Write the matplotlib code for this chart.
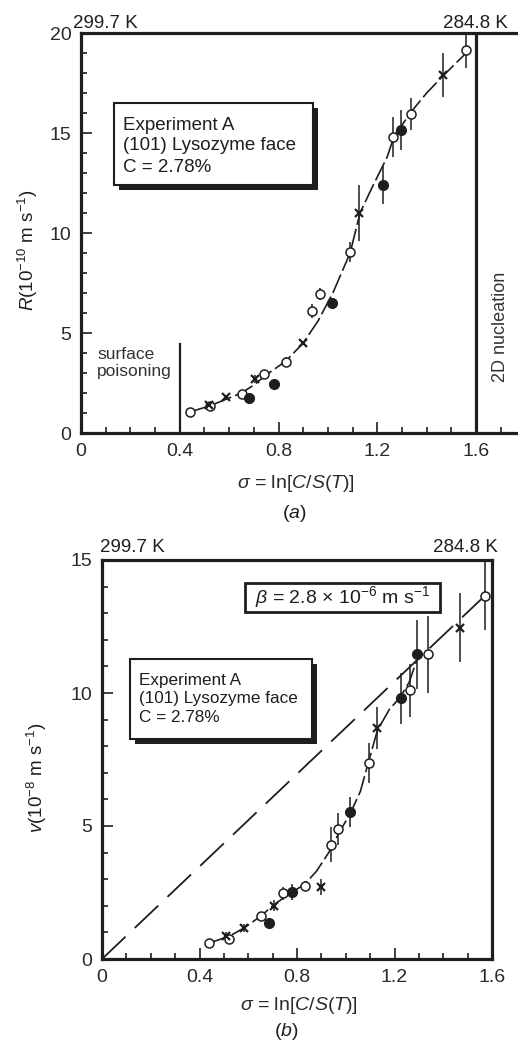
import matplotlib

matplotlib.use("Agg")
import matplotlib.pyplot as plt
from matplotlib.patches import Rectangle
from matplotlib.ticker import MultipleLocator, FuncFormatter


# ---- datos del panel (a): velocidad de crecimiento R ----
a_abierto_x = [0.441, 0.522, 0.652, 0.741, 0.829, 0.936, 0.968, 1.089, 1.263, 1.335, 1.561]
a_abierto_y = [1.05, 1.35, 1.95, 2.95, 3.55, 6.1, 6.95, 9.05, 14.8, 15.95, 19.15]
a_abierto_err = [0, 0, 0, 0, 0.25, 0.35, 0.3, 0.5, 1.0, 0.8, 0.9]

a_lleno_x = [0.68, 0.781, 1.015, 1.222, 1.295]
a_lleno_y = [1.75, 2.45, 6.5, 12.4, 15.15]
a_lleno_err = [0, 0, 0, 0.95, 1.0]

a_cruz_x = [0.52, 0.587, 0.704, 0.9, 1.126, 1.467]
a_cruz_y = [1.4, 1.8, 2.7, 4.5, 11.0, 17.9]
a_cruz_err = [0, 0, 0.2, 0, 1.4, 1.1]

a_curva_x = [0.44, 0.52, 0.59, 0.65, 0.70, 0.75, 0.83, 0.90, 0.96, 1.02,
             1.09, 1.13, 1.18, 1.24, 1.27, 1.30, 1.34, 1.40, 1.47, 1.56]
a_curva_y = [1.05, 1.35, 1.7, 2.0, 2.4, 2.9, 3.6, 4.5, 5.6, 7.0,
             9.0, 11.0, 12.3, 13.8, 14.9, 15.4, 16.1, 17.0, 17.9, 19.0]

# ---- datos del panel (b): velocidad de escalón v ----
b_abierto_x = [0.439, 0.52, 0.652, 0.741, 0.832, 0.941, 0.97, 1.094, 1.265, 1.336, 1.572]
b_abierto_y = [0.6, 0.75, 1.62, 2.47, 2.75, 4.3, 4.9, 7.37, 10.1, 11.45, 13.65]
b_abierto_err = [0, 0, 0.15, 0.25, 0.2, 0.65, 0.6, 0.75, 1.0, 1.45, 1.3]

b_lleno_x = [0.686, 0.781, 1.018, 1.225, 1.293]
b_lleno_y = [1.35, 2.52, 5.53, 9.8, 11.45]
b_lleno_err = [0.2, 0.3, 0.55, 0.95, 1.3]

b_cruz_x = [0.51, 0.582, 0.705, 0.9, 1.13, 1.47]
b_cruz_y = [0.85, 1.16, 2.0, 2.72, 8.68, 12.45]
b_cruz_err = [0.15, 0.15, 0.2, 0.3, 0.8, 1.3]

b_curva_x = [0.44, 0.52, 0.58, 0.65, 0.70, 0.76, 0.83, 0.88, 0.93, 0.97,
             1.02, 1.06, 1.09, 1.13, 1.18, 1.22, 1.26, 1.29]
b_curva_y = [0.6, 0.85, 1.15, 1.6, 2.0, 2.4, 2.8, 3.3, 4.0, 4.7,
             5.5, 6.3, 7.3, 8.6, 9.4, 9.8, 10.4, 11.2]

beta_x = [0, 1.57]
beta_y = [0, 13.65]

TINTA = "#1e1e1e"
W, H = 518, 1042

plt.rcParams["font.family"] = ["Liberation Sans", "DejaVu Sans"]
plt.rcParams["mathtext.fontset"] = "custom"
plt.rcParams["mathtext.rm"] = "Liberation Sans"
plt.rcParams["mathtext.it"] = "Liberation Sans:italic"
plt.rcParams["mathtext.cal"] = "Liberation Sans"


def fx(px):
    return px / W


def fy(py):
    return 1 - py / H


def caja(fig, x0, y0, x1, y1, sombra=5, lw=1.5):
    """Recuadro con sombra negra abajo a la derecha (coordenadas en píxeles)."""
    if sombra:
        fig.patches.append(Rectangle((fx(x0 + sombra), fy(y1 + sombra)),
                                     fx(x1 - x0), (y1 - y0) / H,
                                     transform=fig.transFigure, facecolor=TINTA,
                                     edgecolor=TINTA, lw=0, zorder=5))
    fig.patches.append(Rectangle((fx(x0), fy(y1)), fx(x1 - x0), (y1 - y0) / H,
                                 transform=fig.transFigure, facecolor="white",
                                 edgecolor=TINTA, lw=lw, zorder=6))


def estilo_ejes(ax, ymax):
    ax.xaxis.set_major_locator(MultipleLocator(0.4))
    ax.xaxis.set_minor_locator(MultipleLocator(0.1))
    ax.yaxis.set_major_locator(MultipleLocator(5))
    ax.yaxis.set_minor_locator(MultipleLocator(1))
    ax.xaxis.set_major_formatter(FuncFormatter(lambda v, p: f"{v:g}"))
    ax.set_ylim(0, ymax)
    ax.tick_params(which="both", direction="in", color=TINTA, width=1.2,
                   labelsize=14, labelcolor="#2a2a2a", pad=7)
    ax.tick_params(which="major", length=8)
    ax.tick_params(which="minor", length=4.5)
    for lado in ax.spines.values():
        lado.set_linewidth(2.3)
        lado.set_color(TINTA)


def dibujar_puntos(ax, series):
    for xs, ys, errs, estilo in series:
        ax.errorbar(xs, ys, yerr=errs, fmt="none", ecolor=TINTA, elinewidth=1.1,
                    capsize=0, zorder=3, clip_on=False)
        ax.plot(xs, ys, linestyle="none", zorder=4, clip_on=False, **estilo)


ABIERTO = dict(marker="o", markersize=6.5, markerfacecolor="white",
               markeredgecolor=TINTA, markeredgewidth=1.1)
LLENO = dict(marker="o", markersize=7, markerfacecolor=TINTA,
             markeredgecolor=TINTA)
CRUZ = dict(marker="x", markersize=6, markeredgecolor=TINTA, markeredgewidth=1.6)


def main():
    fig = plt.figure(figsize=(W / 100, H / 100), dpi=100)

    # ---------------- panel (a) ----------------
    ax_a = fig.add_axes([fx(81), fy(433), fx(518 - 81), (433 - 33) / H])
    estilo_ejes(ax_a, 20)
    ax_a.set_xlim(0, 1.77)
    ax_a.spines["right"].set_visible(False)

    ax_a.plot(a_curva_x, a_curva_y, color=TINTA, lw=1.2, dashes=(12, 2.5), zorder=2)
    dibujar_puntos(ax_a, [
        (a_abierto_x, a_abierto_y, a_abierto_err, ABIERTO),
        (a_lleno_x, a_lleno_y, a_lleno_err, LLENO),
        (a_cruz_x, a_cruz_y, a_cruz_err, CRUZ),
    ])
    ax_a.plot([0.4, 0.4], [0, 4.45], color=TINTA, lw=1.6)
    ax_a.plot([1.6, 1.6], [0, 20], color=TINTA, lw=2.3)
    ax_a.text(0.065, 3.5, "surface\npoisoning", fontsize=12.5, color="#333333",
              linespacing=1.1, va="center", ha="left")
    ax_a.text(1.7, 5.3, "2D nucleation", rotation=90, fontsize=13,
              color="#333333", ha="center", va="center")

    fig.text(fx(105), fy(23), "299.7 K", fontsize=13.5, color=TINTA, ha="center", va="center")
    fig.text(fx(475), fy(23), "284.8 K", fontsize=13.5, color=TINTA, ha="center", va="center")
    fig.text(fx(28), fy(250), r"$R$(10$^{-10}$ m s$^{-1}$)", rotation=90,
             fontsize=13.5, color=TINTA, ha="center", va="center")
    fig.text(fx(296), fy(484), r"$\sigma$ = ln[$C$/$S$($T$)]", fontsize=14,
             color="#2a2a2a", ha="center", va="center")
    fig.text(fx(294), fy(514), r"($a$)", fontsize=14, color=TINTA, ha="center", va="center")

    caja(fig, 114, 103, 313, 185)
    for texto, py in [("Experiment A", 125), ("(101) Lysozyme face", 146), ("C = 2.78%", 167)]:
        fig.text(fx(123), fy(py), texto, fontsize=13.5, color=TINTA,
                 ha="left", va="center", zorder=7)

    # ---------------- panel (b) ----------------
    ax_b = fig.add_axes([fx(102), fy(959), fx(492 - 102), (959 - 560) / H])
    estilo_ejes(ax_b, 15)
    ax_b.set_xlim(0, 1.6)

    ax_b.plot(beta_x, beta_y, color=TINTA, lw=1.3, dashes=(18, 7), zorder=2)
    ax_b.plot(b_curva_x, b_curva_y, color=TINTA, lw=1.2, dashes=(12, 2.5), zorder=2)
    dibujar_puntos(ax_b, [
        (b_abierto_x, b_abierto_y, b_abierto_err, ABIERTO),
        (b_lleno_x, b_lleno_y, b_lleno_err, LLENO),
        (b_cruz_x, b_cruz_y, b_cruz_err, CRUZ),
    ])

    fig.text(fx(132), fy(547), "299.7 K", fontsize=13.5, color=TINTA, ha="center", va="center")
    fig.text(fx(465), fy(547), "284.8 K", fontsize=13.5, color=TINTA, ha="center", va="center")
    fig.text(fx(37), fy(778), r"$v$(10$^{-8}$ m s$^{-1}$)", rotation=90,
             fontsize=13.5, color=TINTA, ha="center", va="center")
    fig.text(fx(299), fy(1005), r"$\sigma$ = ln[$C$/$S$($T$)]", fontsize=14,
             color="#2a2a2a", ha="center", va="center")
    fig.text(fx(286), fy(1032), r"($b$)", fontsize=14, color=TINTA, ha="center", va="center")

    caja(fig, 245, 583, 440, 612, sombra=0, lw=2)
    fig.text(fx(342), fy(597), r"$\beta$ = 2.8 × 10$^{-6}$ m s$^{-1}$", fontsize=14,
             color=TINTA, ha="center", va="center", zorder=7)

    caja(fig, 130, 659, 312, 739)
    for texto, py in [("Experiment A", 680), ("(101) Lysozyme face", 699), ("C = 2.78%", 718)]:
        fig.text(fx(139), fy(py), texto, fontsize=12.3, color=TINTA,
                 ha="left", va="center", zorder=7)

    fig.savefig("out.png", dpi=100, facecolor="white")
    plt.close(fig)


if __name__ == "__main__":
    main()
